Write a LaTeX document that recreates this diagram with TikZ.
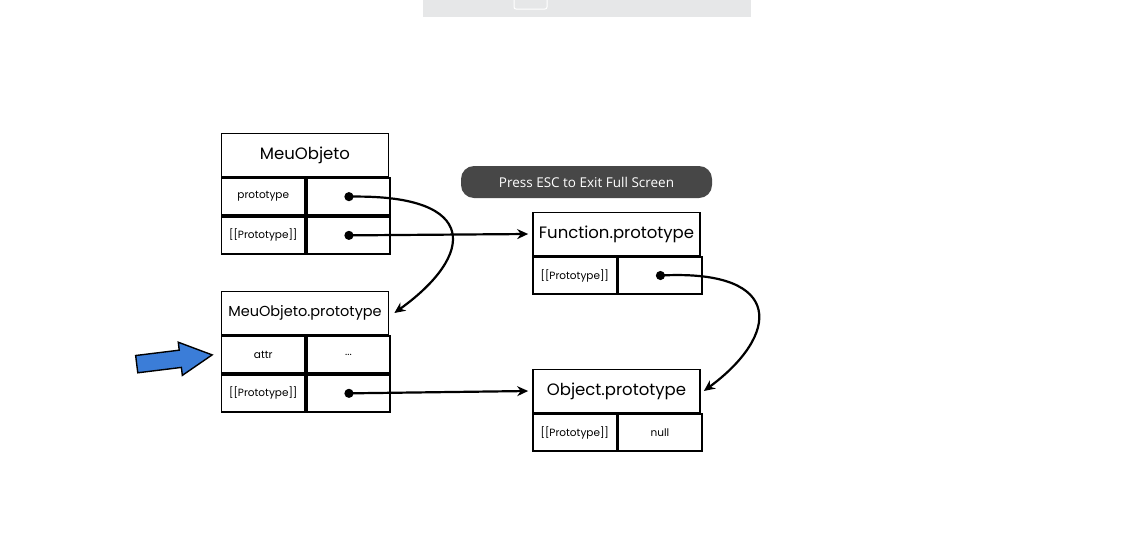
\documentclass[tikz,border=0pt]{standalone}
\usepackage{fontspec}
\setmainfont{Poppins}
\newfontfamily\pillfont{Open Sans}
\usetikzlibrary{shapes.arrows, arrows.meta, positioning}
\definecolor{hintblue}{HTML}{3B7DD8}
\definecolor{barg}{HTML}{E6E7E8}
\definecolor{pillg}{HTML}{474747}

\begin{document}
\begin{tikzpicture}[x=1pt, y=-1pt,
            title/.style={draw, line width=1.7pt, minimum width=167pt, minimum height=43pt, inner sep=0pt, font=\fontsize{16.5}{19}\selectfont},
            cell/.style={draw, line width=1.7pt, minimum width=83.5pt, minimum height=37pt, inner sep=0pt, font=\fontsize{10.5}{12}\selectfont},
            ptr/.style={line width=2.2pt, {Circle[length=9pt]}-{Stealth[length=11pt, width=10pt]}}]

            \useasboundingbox[fill=white] (0,0) rectangle (1135,536);
            \fill[barg] (423,0) rectangle (751,17);
            \draw[white, line width=1pt, rounded corners=2pt] (514,-4) rectangle (547,9);

            \node[fill=pillg, rounded corners=13pt, minimum width=251pt, minimum height=32pt, text=white, font=\pillfont\fontsize{13.5}{15}\selectfont] (esc) at (586.5,182) {Press ESC to Exit Full Screen};

            \node[title] (mo) at (305,155) {MeuObjeto};
            \node[cell, below right=0pt of mo.south west] (mo-k1) {prototype};
            \node[cell, right=0pt of mo-k1] (mo-v1) {};
            \node[cell, below right=0pt of mo-k1.south west] (mo-k2) {[[Prototype]]};
            \node[cell, right=0pt of mo-k2] (mo-v2) {};

            \node[title, font=\fontsize{14.5}{17}\selectfont] (mp) at (305,313) {MeuObjeto.prototype};
            \node[cell, below right=0pt of mp.south west] (mp-k1) {attr};
            \node[cell, right=0pt of mp-k1] (mp-v1) {...};
            \node[cell, below right=0pt of mp-k1.south west] (mp-k2) {[[Prototype]]};
            \node[cell, right=0pt of mp-k2] (mp-v2) {};

            \node[title] (fp) at (616.5,234) {Function.prototype};
            \node[cell, below right=0pt of fp.south west] (fp-k1) {[[Prototype]]};
            \node[cell, right=0pt of fp-k1] (fp-v1) {};

            \node[title] (op) at (616.5,391) {Object.prototype};
            \node[cell, below right=0pt of op.south west] (op-k1) {[[Prototype]]};
            \node[cell, right=0pt of op-k1] (op-v1) {null};

            \node[single arrow, draw, fill=hintblue, line width=1.4pt, minimum height=76pt, inner xsep=0pt, inner ysep=8pt, single arrow head extend=8pt, single arrow tip angle=55, rotate=7, anchor=tip] (hint) at ([xshift=-7pt]mp-k1.west) {};

            \draw[ptr] ([xshift=-4pt]mo-v1.center) .. controls (480,195) and (475,255) .. ([xshift=5pt]mp.east);
            \draw[ptr] ([xshift=-4pt]mo-v2.center) -- ([xshift=-4pt]fp.west);
            \draw[ptr] ([xshift=-4pt]fp-v1.center) .. controls (785,270) and (780,335) .. ([xshift=3pt]op.east);
            \draw[ptr] ([xshift=-4pt]mp-v2.center) -- ([xshift=-4pt]op.west);
        \end{tikzpicture}
\end{document}
